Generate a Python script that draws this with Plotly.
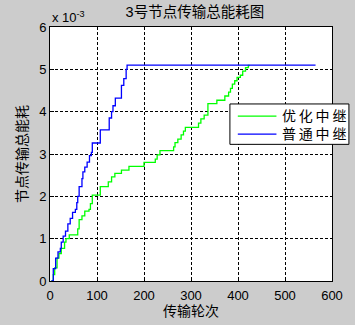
import plotly.graph_objects as go

# rounds (x) and total energy (units of 1e-3)
opt_rounds = [3, 7, 10, 15, 19, 24, 31, 34, 41, 59, 62, 68, 74, 83, 86, 90, 107, 124, 131, 138, 152,
              168, 200, 224, 228, 234, 263, 266, 272, 279, 284, 288, 302, 316, 321, 328, 336,
              355, 372, 380, 384, 388, 393, 398, 405, 410, 416, 422, 425]
opt_energy = [0, 0.15, 0.31, 0.54, 0.65, 0.77, 0.92, 1.0, 1.09, 1.23, 1.45, 1.54, 1.65, 1.69, 1.83, 2.03, 2.23, 2.34, 2.46, 2.54, 2.62,
              2.71, 2.80, 2.88, 2.98, 3.08, 3.17, 3.27, 3.35, 3.45, 3.54, 3.63, 3.63, 3.73, 3.83, 3.92, 4.19,
              4.27, 4.37, 4.46, 4.55, 4.65, 4.73, 4.81, 4.86, 4.96, 5.04, 5.09, 5.09]

nor_rounds = [3, 7, 12, 17, 22, 24, 28, 33, 38, 43, 48, 54, 57, 59, 62, 68, 70, 74, 79, 84, 88, 90,
              107, 126, 131, 134, 139, 152, 157, 162, 164, 565]
nor_energy = [0, 0.29, 0.54, 0.69, 0.77, 0.92, 1.06, 1.18, 1.35, 1.48, 1.62, 1.69, 1.85, 2.0, 2.23, 2.42, 2.58, 2.69, 2.81, 2.96, 3.04, 3.26,
              3.57, 3.85, 4.0, 4.14, 4.32, 4.62, 4.78, 5.0, 5.10, 5.10]

x_ticks = [0, 100, 200, 300, 400, 500, 600]
y_ticks = [0, 1, 2, 3, 4, 5, 6]

series_names = ["优化中继", "普通中继"]
series_colors = ["#00ff00", "#0000ff"]

FONT = "Liberation Sans, Arial, Noto Sans CJK SC, sans-serif"

fig = go.Figure()
fig.add_trace(go.Scatter(x=opt_rounds, y=opt_energy, mode="lines", name=series_names[0],
                         line=dict(color=series_colors[0], width=1.3, shape="hv")))
fig.add_trace(go.Scatter(x=nor_rounds, y=nor_energy, mode="lines", name=series_names[1],
                         line=dict(color=series_colors[1], width=1.3, shape="hv")))

axis_common = dict(showgrid=True, gridcolor="black", griddash="3px,2px", gridwidth=1,
                   showline=True, linecolor="black", linewidth=1, mirror=True,
                   ticks="inside", ticklen=4, tickcolor="black", zeroline=False,
                   tickfont=dict(family=FONT, size=13, color="black"))

# legend box drawn in paper coordinates (MATLAB-style legend spilling past the axes)
shapes = [dict(type="rect", xref="paper", yref="paper", x0=0.638, x1=1.06, y0=0.538, y1=0.697,
               fillcolor="white", line=dict(color="black", width=1), layer="above")]
annotations = [dict(text="x 10<sup>-3</sup>", xref="paper", yref="paper", x=0, y=1.0,
                    xanchor="left", yanchor="bottom", showarrow=False,
                    font=dict(family=FONT, size=13, color="black"))]
legend_rows = [0.649, 0.578]
for name, color, yy in zip(series_names, series_colors, legend_rows):
    shapes.append(dict(type="line", xref="paper", yref="paper", x0=0.666, x1=0.803, y0=yy, y1=yy,
                       line=dict(color=color, width=1.3), layer="above"))
    annotations.append(dict(text="\u2009".join(name), xref="paper", yref="paper", x=0.815, y=yy,
                            xanchor="left", yanchor="middle", showarrow=False,
                            font=dict(family=FONT, size=14, color="black")))

fig.update_layout(
    width=355, height=325,
    margin=dict(l=50, r=15, t=27, b=38),
    paper_bgcolor="#cccccc", plot_bgcolor="white",
    title=dict(text="3号节点传输总能耗图", x=0.549, xanchor="center", y=0.962, yanchor="middle",
               font=dict(family=FONT, size=14.5, color="black")),
    xaxis=dict(range=[0, 600], tickvals=x_ticks, ticklabelstandoff=2,
               title=dict(text="传输轮次", standoff=1, font=dict(family=FONT, size=14, color="black")),
               **axis_common),
    yaxis=dict(range=[0, 6], tickvals=y_ticks,
               title=dict(text="节点传输总能耗", standoff=8, font=dict(family=FONT, size=14, color="black")),
               **axis_common),
    shapes=shapes,
    annotations=annotations,
    showlegend=False,
)

fig.write_html("out.html")
